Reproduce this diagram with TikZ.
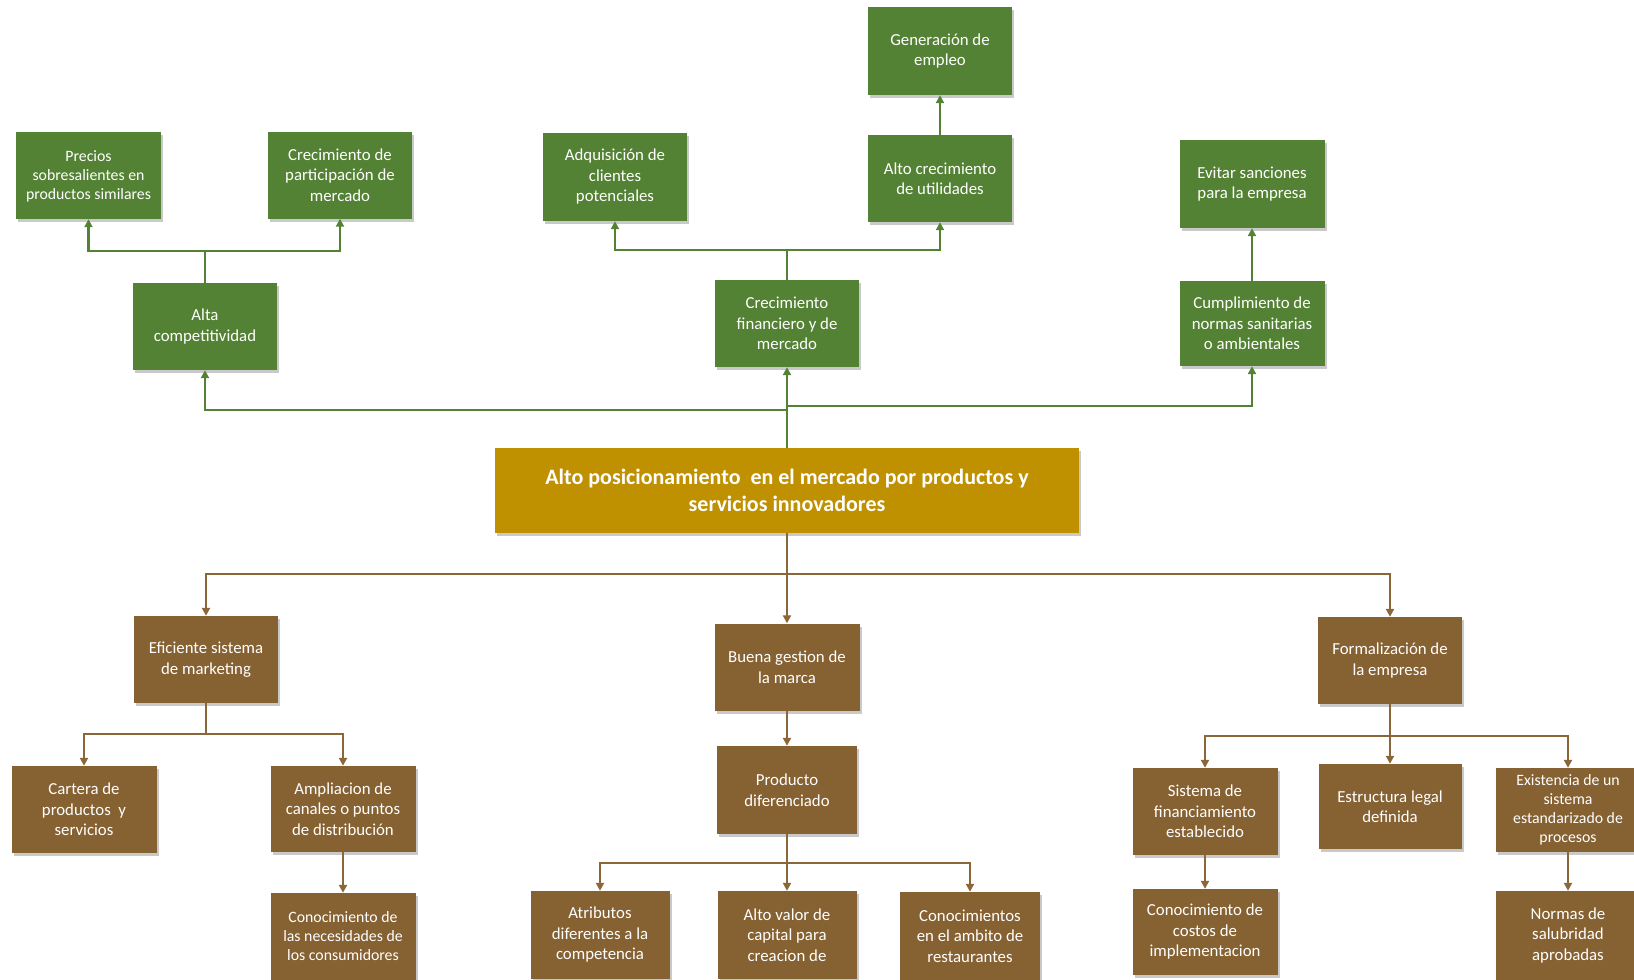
\documentclass[tikz,border=0pt]{standalone}
\usepackage{fontspec}
\setmainfont{Carlito}
\usetikzlibrary{arrows.meta,shadows}

\definecolor{leaf}{RGB}{84,130,53}
\definecolor{goldbox}{RGB}{191,144,0}
\definecolor{barkbox}{RGB}{134,97,50}
\definecolor{barkline}{RGB}{138,102,56}

\tikzset{
  box/.style={rectangle, inner sep=0pt, align=center, text=white,
    minimum width=144pt, minimum height=87pt,
    font=\fontsize{16.8}{20.5}\selectfont,
    drop shadow={shadow xshift=2pt, shadow yshift=-3pt, opacity=0.3, fill=black!70}},
  tight/.style={font=\fontsize{15.8}{19}\selectfont},
  gbox/.style={box, fill=leaf},
  bbox/.style={box, fill=barkbox},
  mainbox/.style={box, fill=goldbox, minimum width=584pt, minimum height=85pt,
    font=\fontsize{22}{27}\selectfont\bfseries},
  gline/.style={draw=leaf, line width=2.5pt},
  garrow/.style={gline, -{Triangle[length=8pt,width=8pt]}},
  bline/.style={draw=barkline, line width=2.2pt},
  barrow/.style={bline, -{Triangle[length=8pt,width=8pt]}},
}

\begin{document}
\begin{tikzpicture}[x=1pt, y=-1pt]
\useasboundingbox (0,0) rectangle (1634,980);
\begin{scope}
\clip (0,0) rectangle (1634,980);

% ---- central effect ----
\node[mainbox] (main) at (787,490.5) {Alto posicionamiento\ \ en el mercado por productos y\\servicios innovadores};

% ---- upper branch: effects ----
\node[gbox, tight, minimum width=145pt, text depth=-4pt] (prec) at (88.5,175.5) {Precios\\sobresalientes en\\productos similares};
\node[gbox] (crecp) at (340,175) {Crecimiento de\\participación de\\mercado};
\node[gbox] (alta) at (205,326.5) {Alta\\competitividad};
\node[gbox, minimum height=88pt] (gen) at (940,51) {Generación de\\empleo};
\node[gbox, minimum height=88pt] (adq) at (615,177) {Adquisición de\\clientes\\potenciales};
\node[gbox] (altoc) at (940,178.5) {Alto crecimiento\\de utilidades};
\node[gbox] (crecf) at (787,323.5) {Crecimiento\\financiero y de\\mercado};
\node[gbox, minimum width=145pt, minimum height=88pt] (evit) at (1252,184) {Evitar sanciones\\para la empresa};
\node[gbox, minimum width=145pt, minimum height=85pt] (cump) at (1252,323.5) {Cumplimiento\ de\\normas\ sanitarias\\o ambientales};

% ---- lower branch: causes ----
\node[bbox] (efic) at (206,659.5) {Eficiente sistema\\de marketing};
\node[bbox, minimum width=145pt] (buena) at (787,667) {Buena gestion de\\la marca};
\node[bbox] (formal) at (1390,660.5) {Formalización de\\la empresa};

\node[bbox, minimum width=145pt] (cart) at (84,809.5) {Cartera de\\productos\ \ y\\servicios};
\node[bbox, minimum width=145pt, minimum height=86pt] (ampl) at (343,809) {Ampliacion de\\canales o puntos\\de distribución};
\node[bbox, tight, minimum width=145pt] (cnec) at (343,936.5) {Conocimiento de\\las necesidades de\\los consumidores};

\node[bbox, minimum width=140pt, minimum height=88pt] (prod) at (787,790) {Producto\\diferenciado};
\node[bbox, minimum width=139pt, minimum height=88pt] (atri) at (600,935) {Atributos\\diferentes\ a la\\competencia};
\node[bbox, minimum width=139pt, minimum height=88pt] (altov) at (787,935) {Alto valor de\\capital para\\creacion de};
\node[bbox, minimum width=140pt, minimum height=88pt] (crest) at (970,936) {Conocimientos\\en el ambito de\\restaurantes};

\node[bbox, minimum width=145pt] (sist) at (1205,811.5) {Sistema de\\financiamiento\\establecido};
\node[bbox, minimum width=143pt, minimum height=85pt] (estr) at (1390,806.5) {Estructura\ legal\\definida};
\node[bbox, tight, minimum height=84pt] (exist) at (1568,810) {Existencia de un\\sistema\\estandarizado de\\procesos};
\node[bbox, minimum width=145pt, minimum height=86pt] (ccost) at (1205,932) {Conocimiento de\\costos de\\implementacion};
\node[bbox, minimum height=89pt] (norm) at (1568,935.5) {Normas\ de\\salubridad\\aprobadas};

% ---- upper connectors ----
\coordinate (jl) at (787,410);
\coordinate (jr) at (787,406);
\draw[garrow] (main.north) -- (crecf.south);
\draw[garrow] (jl) -| (alta.south);
\draw[garrow] (jr) -| (cump.south);

\coordinate (ja) at (205,251);
\draw[gline] (alta.north) -- (ja);
\draw[garrow] (ja) -| (prec.south);
\draw[garrow] (ja) -| (crecp.south);

\coordinate (jc) at (787,250);
\draw[gline] (crecf.north) -- (jc);
\draw[garrow] (jc) -| (adq.south);
\draw[garrow] (jc) -| (altoc.south);

\draw[garrow] (altoc.north) -- (gen.south);
\draw[garrow] (cump.north) -- (evit.south);

% ---- lower connectors ----
\coordinate (jm) at (787,574);
\draw[bline] (main.south) -- (jm);
\draw[barrow] (jm) -| (efic.north);
\draw[barrow] (jm) -- (buena.north);
\draw[barrow] (jm) -| (formal.north);

\coordinate (je) at (206,734);
\draw[bline] (efic.south) -- (je);
\draw[barrow] (je) -| (cart.north);
\draw[barrow] (je) -| (ampl.north);
\draw[barrow] (ampl.south) -- (cnec.north);

\draw[barrow] (buena.south) -- (prod.north);
\coordinate (jp) at (787,863);
\draw[bline] (prod.south) -- (jp);
\draw[barrow] (jp) -| (atri.north);
\draw[barrow] (jp) -- (altov.north);
\draw[barrow] (jp) -| (crest.north);

\coordinate (jf) at (1390,736);
\draw[bline] (formal.south) -- (jf);
\draw[barrow] (jf) -| (sist.north);
\draw[barrow] (jf) -- (estr.north);
\draw[barrow] (jf) -| (exist.north);
\draw[barrow] (sist.south) -- (ccost.north);
\draw[barrow] (exist.south) -- (norm.north);
\end{scope}
\end{tikzpicture}
\end{document}
